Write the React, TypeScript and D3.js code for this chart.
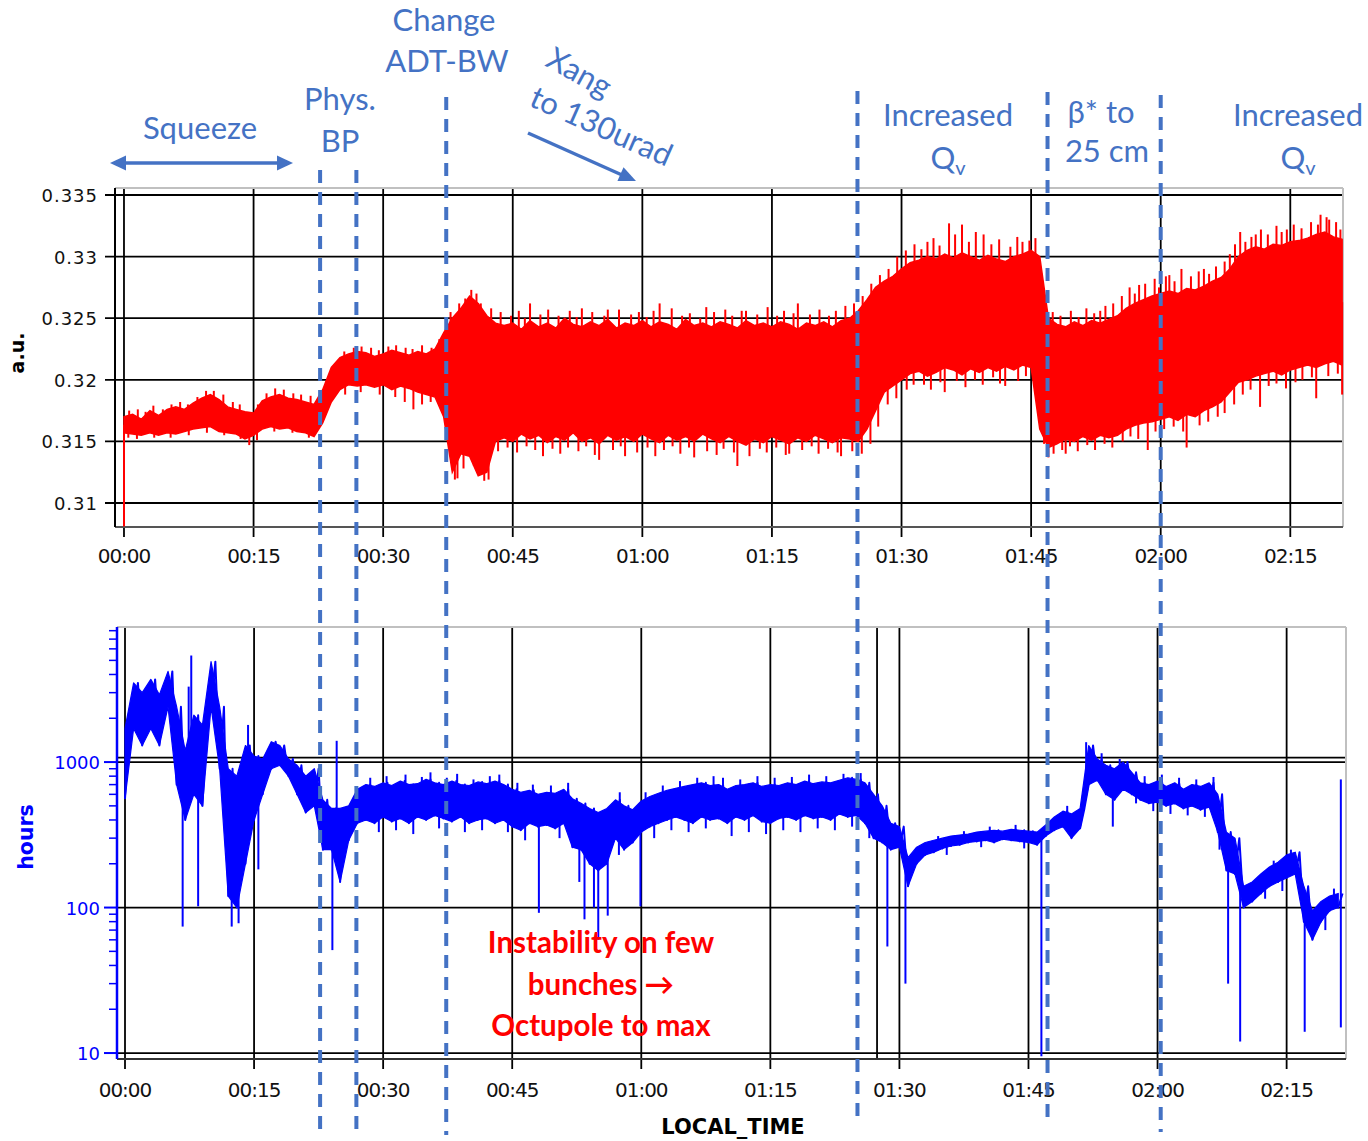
import React from "react";
import * as d3 from "d3";

// ---------- DATA ----------
// top panel: per-minute envelope (a.u.), index = minutes since 00:00
const redHigh = [
  0.3170, 0.3172, 0.3168, 0.3175, 0.3171, 0.3176, 0.3178, 0.3176, 0.3181, 0.3185,
  0.3188, 0.3184, 0.3178, 0.3176, 0.3174, 0.3173, 0.3183, 0.3186, 0.3188, 0.3185,
  0.3184, 0.3182, 0.3180, 0.3192, 0.3210, 0.3218, 0.3221, 0.3223, 0.3222, 0.3219,
  0.3221, 0.3224, 0.3222, 0.3220, 0.3223, 0.3221, 0.3225, 0.3238, 0.3250, 0.3258,
  0.3268, 0.3262, 0.3252, 0.3246, 0.3244, 0.3246, 0.3241, 0.3248, 0.3243, 0.3246,
  0.3242, 0.3250, 0.3245, 0.3243, 0.3247, 0.3244, 0.3249, 0.3242, 0.3246, 0.3244,
  0.3248, 0.3243, 0.3247, 0.3245, 0.3241, 0.3249, 0.3244, 0.3246, 0.3243, 0.3247,
  0.3245, 0.3242, 0.3248, 0.3244, 0.3246, 0.3243, 0.3247, 0.3245, 0.3241, 0.3246,
  0.3244, 0.3247, 0.3243, 0.3248, 0.3250, 0.3256, 0.3265, 0.3275, 0.3280, 0.3284,
  0.3290, 0.3295, 0.3297, 0.3300, 0.3298, 0.3302, 0.3299, 0.3303, 0.3300, 0.3297,
  0.3301, 0.3298, 0.3296, 0.3300, 0.3302, 0.3305, 0.3300, 0.3250, 0.3245, 0.3243,
  0.3247, 0.3244, 0.3248, 0.3246, 0.3249, 0.3252, 0.3258, 0.3262, 0.3265, 0.3268,
  0.3270, 0.3272, 0.3270, 0.3274, 0.3273, 0.3276, 0.3280, 0.3283, 0.3290, 0.3300,
  0.3305, 0.3308, 0.3306, 0.3310, 0.3309, 0.3312, 0.3313, 0.3315, 0.3318, 0.3320,
  0.3316, 0.3314,
];
const redLow = [
  0.3157, 0.3156, 0.3155, 0.3157, 0.3155, 0.3157, 0.3156, 0.3158, 0.3160, 0.3161,
  0.3162, 0.3158, 0.3157, 0.3156, 0.3152, 0.3155, 0.3160, 0.3162, 0.3160, 0.3161,
  0.3158, 0.3157, 0.3154, 0.3165, 0.3182, 0.3192, 0.3196, 0.3195, 0.3196, 0.3194,
  0.3196, 0.3192, 0.3195, 0.3193, 0.3190, 0.3188, 0.3186, 0.3170, 0.3125, 0.3140,
  0.3138, 0.3122, 0.3125, 0.3150, 0.3153, 0.3150, 0.3156, 0.3152, 0.3155, 0.3149,
  0.3154, 0.3151, 0.3157, 0.3150, 0.3153, 0.3148, 0.3155, 0.3151, 0.3154, 0.3150,
  0.3156, 0.3152, 0.3149, 0.3155, 0.3151, 0.3154, 0.3150, 0.3156, 0.3152, 0.3149,
  0.3154, 0.3150, 0.3147, 0.3152, 0.3149, 0.3154, 0.3151, 0.3148, 0.3153, 0.3150,
  0.3155, 0.3152, 0.3149, 0.3153, 0.3152, 0.3150, 0.3160, 0.3175, 0.3190, 0.3195,
  0.3200, 0.3205, 0.3207, 0.3203, 0.3206, 0.3210, 0.3208, 0.3204, 0.3209, 0.3206,
  0.3210, 0.3207, 0.3211, 0.3208, 0.3212, 0.3210, 0.3160, 0.3145, 0.3148, 0.3152,
  0.3150, 0.3154, 0.3151, 0.3155, 0.3153, 0.3155, 0.3160, 0.3163, 0.3165, 0.3166,
  0.3168, 0.3170, 0.3167, 0.3172, 0.3170, 0.3175, 0.3178, 0.3182, 0.3190, 0.3198,
  0.3200, 0.3203, 0.3205, 0.3207, 0.3204, 0.3208, 0.3210, 0.3212, 0.3210, 0.3213,
  0.3215, 0.3212,
];
// excursions outside the envelope [minute, value]
const redSpikes: [number, number][] = [
  [0, 0.3081], [9.5, 0.3191], [14.5, 0.3147], [17.5, 0.3193], [33.5, 0.3176],
  [36.5, 0.3233], [38.3, 0.3119], [40.2, 0.3273], [40.8, 0.3270], [41.7, 0.3118],
  [47, 0.3262], [53, 0.3258], [55, 0.3135], [56, 0.3257], [58, 0.3138],
  [62, 0.3262], [66, 0.3137], [71, 0.3130], [72, 0.3256], [77, 0.3140],
  [78, 0.3262], [83, 0.3138], [93, 0.3312], [95.5, 0.3327], [97, 0.3326],
  [99.5, 0.3318], [104, 0.3312], [95, 0.3190], [102, 0.3195], [107, 0.3137],
  [109, 0.3140], [113, 0.3256], [117.5, 0.3277], [118.5, 0.3143], [121, 0.3285],
  [123, 0.3145], [125, 0.3290], [128, 0.3302], [131, 0.3318], [131.5, 0.3178],
  [134, 0.3320], [138, 0.3185], [138.5, 0.3334], [139.5, 0.3330], [141, 0.3188],
  [0.6, 0.3175], [1.6, 0.3176], [2.5, 0.3174], [3.4, 0.3179], [4.5, 0.3176],
  [5.5, 0.3180], [6.5, 0.3182], [7.4, 0.3180], [8.5, 0.3186], [10.4, 0.3191],
  [11.5, 0.3188], [12.6, 0.3182], [13.4, 0.3180], [15.5, 0.3180], [16.5, 0.3189],
  [18.5, 0.3192], [19.6, 0.3189], [20.5, 0.3188], [21.6, 0.3187], [25.5, 0.3223],
  [26.6, 0.3226], [27.5, 0.3227], [28.6, 0.3226], [29.5, 0.3224], [30.6, 0.3227],
  [31.5, 0.3228], [32.6, 0.3226], [33.4, 0.3225], [34.5, 0.3228], [35.6, 0.3226],
  [0.5, 0.3153], [1.5, 0.3152], [3.5, 0.3153], [5.4, 0.3153], [7.5, 0.3155],
  [9.6, 0.3157], [11.6, 0.3155], [13.5, 0.3152], [15.4, 0.3151], [17.4, 0.3158],
  [19.5, 0.3157], [21.4, 0.3153], [25.6, 0.3188], [27.4, 0.3190], [29.6, 0.3188],
  [31.4, 0.3186], [32.5, 0.3182], [34.5, 0.3180], [35.5, 0.3182],
  [37.8, 0.3255], [38.8, 0.3262], [39.5, 0.3266], [41.3, 0.3262], [42.5, 0.3258],
  [43.6, 0.3255], [44.8, 0.3252], [45.7, 0.3256], [46.4, 0.3250], [48.2, 0.3253],
  [49.1, 0.3257], [50.3, 0.3252], [51.6, 0.3256], [52.4, 0.3251], [54.2, 0.3255],
  [55.6, 0.3252], [57.3, 0.3257], [58.7, 0.3253], [59.6, 0.3255], [60.5, 0.3251],
  [61.3, 0.3256], [63.4, 0.3258], [64.6, 0.3252], [65.5, 0.3254], [66.7, 0.3250],
  [67.4, 0.3259], [68.3, 0.3255], [69.6, 0.3257], [70.4, 0.3252], [71.5, 0.3256],
  [73.3, 0.3253], [74.5, 0.3259], [75.6, 0.3252], [76.4, 0.3256], [77.5, 0.3254],
  [79.4, 0.3253], [80.5, 0.3257], [81.6, 0.3252], [82.4, 0.3256], [83.5, 0.3260],
  [84.5, 0.3262], [85.5, 0.3268], [86.5, 0.3278], [87.5, 0.3285], [88.5, 0.3290],
  [89.5, 0.3300], [90.5, 0.3305], [91.5, 0.3310], [92.3, 0.3306], [93.7, 0.3315],
  [94.4, 0.3309], [96.2, 0.3318], [97.8, 0.3312], [98.6, 0.3320], [100.4, 0.3310],
  [101.3, 0.3314], [102.6, 0.3308], [103.4, 0.3316], [104.8, 0.3313], [105.5, 0.3315],
  [107.5, 0.3255], [108.4, 0.3252], [109.6, 0.3256], [110.5, 0.3251], [111.4, 0.3258],
  [112.3, 0.3254], [113.6, 0.3260], [114.5, 0.3262], [115.5, 0.3268], [116.4, 0.3275],
  [117.0, 0.3270], [118.2, 0.3278], [119.3, 0.3282], [119.8, 0.3275], [120.6, 0.3284],
  [121.6, 0.3280], [122.4, 0.3290], [123.5, 0.3284], [124.4, 0.3288], [125.6, 0.3286],
  [126.4, 0.3292], [127.4, 0.3296], [128.6, 0.3310], [129.2, 0.3320], [129.8, 0.3312],
  [130.5, 0.3316], [131.6, 0.3322], [132.4, 0.3318], [133.4, 0.3325], [134.6, 0.3322],
  [135.4, 0.3326], [136.3, 0.3323], [137.4, 0.3328], [138.2, 0.3326], [139.2, 0.3332],
  [140.3, 0.3328], [140.8, 0.3322],
  [37.5, 0.3160], [38.6, 0.3120], [39.3, 0.3128], [40.5, 0.3130], [42.2, 0.3119],
  [43.3, 0.3142], [44.4, 0.3145], [45.5, 0.3141], [46.6, 0.3146], [47.6, 0.3143],
  [48.5, 0.3138], [49.6, 0.3144], [50.5, 0.3140], [51.4, 0.3145], [52.6, 0.3142],
  [53.5, 0.3146], [54.5, 0.3139], [56.6, 0.3143], [57.5, 0.3146], [59.4, 0.3141],
  [60.6, 0.3145], [61.5, 0.3138], [62.5, 0.3143], [63.5, 0.3146], [64.4, 0.3140],
  [65.4, 0.3145], [67.5, 0.3142], [68.6, 0.3139], [69.4, 0.3144], [70.6, 0.3141],
  [72.4, 0.3138], [73.6, 0.3144], [74.4, 0.3141], [75.5, 0.3145], [76.6, 0.3139],
  [78.5, 0.3143], [79.6, 0.3146], [80.4, 0.3140], [81.5, 0.3144], [82.6, 0.3141],
  [84.3, 0.3142], [85.4, 0.3140], [86.4, 0.3148], [87.3, 0.3162], [88.4, 0.3180],
  [89.4, 0.3185], [90.6, 0.3192], [91.4, 0.3196], [92.6, 0.3196], [93.4, 0.3192],
  [94.5, 0.3198], [96.4, 0.3199], [97.4, 0.3194], [98.5, 0.3200], [99.4, 0.3196],
  [100.6, 0.3202], [101.4, 0.3197], [103.5, 0.3199], [104.4, 0.3203], [105.4, 0.3200],
  [106.5, 0.3148], [107.6, 0.3140], [108.6, 0.3143], [109.5, 0.3146], [110.4, 0.3142],
  [111.5, 0.3147], [112.4, 0.3143], [113.5, 0.3148], [114.4, 0.3145], [115.6, 0.3150],
  [116.5, 0.3154], [117.4, 0.3152], [119.4, 0.3158], [120.4, 0.3160], [121.5, 0.3162],
  [122.6, 0.3158], [124.5, 0.3163], [125.5, 0.3166], [126.6, 0.3170], [127.4, 0.3173],
  [128.5, 0.3180], [129.5, 0.3188], [130.4, 0.3192], [132.5, 0.3195], [133.4, 0.3197],
  [134.5, 0.3193], [135.6, 0.3198], [136.4, 0.3200], [137.5, 0.3202], [139.4, 0.3203],
  [140.5, 0.3205],
];

// bottom panel: per-minute envelope (hours)
const blueLow = [
  560, 1700, 1300, 1700, 1300, 2400, 700, 400, 600, 500,
  2400, 900, 120, 100, 200, 400, 600, 900, 950, 800,
  600, 450, 500, 250, 250, 150, 290, 380, 400, 380,
  420, 390, 410, 380, 420, 400, 430, 410, 390, 420,
  380, 400, 410, 380, 400, 360, 340, 380, 360, 370,
  350, 380, 260, 250, 200, 180, 200, 300, 250, 280,
  330, 360, 380, 400, 420, 400, 380, 420, 400, 410,
  380, 420, 400, 430, 390, 380, 410, 420, 400, 430,
  410, 420, 400, 440, 420, 430, 380, 300, 280, 250,
  260, 140, 200, 230, 240, 255, 265, 270, 280, 285,
  290, 280, 295, 290, 285, 280, 270, 310, 340, 360,
  300, 350, 700, 750, 600, 550, 650, 600, 550, 520,
  530, 500, 520, 480, 500, 470, 490, 330, 180, 170,
  100, 110, 125, 140, 150, 160, 170, 80, 60, 80,
  95, 100,
];
const blueHigh = [
  1700, 3500, 3000, 3700, 2900, 4200, 2400, 1200, 2100, 1800,
  4900, 2400, 900, 800, 1300, 1100, 1050, 1380, 1300, 1050,
  950, 800, 900, 550, 480, 480, 500, 650, 700, 680,
  720, 690, 740, 700, 710, 760, 720, 700, 740, 700,
  690, 730, 710, 740, 700, 650, 620, 640, 600, 620,
  610, 650, 560, 520, 480, 450, 480, 550, 500, 470,
  540, 580, 610, 640, 660, 680, 700, 720, 690, 700,
  650, 690, 700, 720, 680, 700, 690, 720, 700, 740,
  710, 730, 720, 750, 780, 760, 720, 600, 500, 380,
  360, 220, 260, 280, 290, 300, 310, 315, 320, 330,
  335, 340, 335, 345, 340, 335, 330, 370, 420, 460,
  440, 480, 1300, 1050, 950, 900, 1000, 850, 720, 700,
  740, 680, 720, 650, 700, 680, 720, 600, 330, 300,
  140, 150, 170, 190, 205, 230, 240, 140, 95, 110,
  120, 125,
];
const blueSpikes: [number, number][] = [
  [6.7, 74], [7.4, 3300], [7.7, 5400], [8.5, 102], [12.4, 74], [13.2, 78], [14.3, 1800],
  [15.5, 183], [24.1, 51], [24.6, 1400], [48.1, 92], [52.8, 150], [53.4, 83],
  [54.5, 100], [55, 60], [56.1, 88],
  [59.9, 102], [68.4, 800], [88.6, 54], [90.7, 30], [106.5, 9.5], [111.7, 1370],
  [114.8, 360], [115.6, 1050], [127.2, 250], [128.2, 30], [129.6, 12],
  [137.1, 14], [141.3, 760], [141.3, 15],
  [28.5, 780], [30.4, 800], [32.6, 820], [34.5, 790], [35.5, 850], [37.4, 780],
  [38.6, 830], [40.5, 760], [42.4, 800], [43.5, 820], [45.6, 720], [47.4, 700],
  [49.5, 690], [51.5, 720], [57.5, 620], [60.5, 620], [62.5, 690], [64.5, 740],
  [66.5, 780], [69.5, 780], [71.5, 760], [73.5, 800], [75.5, 780], [77.5, 790],
  [79.5, 820], [81.5, 800], [83.5, 830], [85.5, 840], [94.5, 310], [97.5, 335],
  [100.5, 360], [103.5, 370], [109.5, 500], [113.5, 1150], [118.5, 800], [120.5, 820],
  [122.5, 780], [124.5, 760], [126.5, 790], [133.5, 210], [135.5, 250], [140.5, 135],
  [29.5, 330], [31.5, 340], [33.5, 320], [36.5, 350], [39.5, 330], [41.5, 340],
  [44.5, 330], [46.5, 290], [50.5, 300], [51.8, 300], [57.4, 230], [61.5, 300],
  [63.5, 340], [65.5, 330], [67.5, 350], [70.5, 310], [72.5, 330], [74.5, 320],
  [76.5, 340], [78.5, 330], [80.5, 350], [82.5, 340], [84.5, 360], [86.5, 300],
  [95.5, 230], [99.5, 260], [104.5, 255], [117.5, 520], [119.5, 460], [121.5, 440],
  [123.5, 430], [125.5, 420], [132.5, 115], [134.5, 130], [139.5, 70],
];

const timeTicks = [0, 15, 30, 45, 60, 75, 90, 105, 120, 135];
const timeLabels = ["00:00", "00:15", "00:30", "00:45", "01:00", "01:15", "01:30", "01:45", "02:00", "02:15"];
const auTicks = [0.31, 0.315, 0.32, 0.325, 0.33, 0.335];
const auLabels = ["0.31", "0.315", "0.32", "0.325", "0.33", "0.335"];
const hoursTicks = [10, 100, 1000];
const hoursLabels = ["10", "100", "1000"];
const eventMinutes = [22.7, 26.9, 37.3, 84.9, 106.9, 120.0];
const markerMinute = 87.4;

// ---------- COMPONENT ----------
const ANN = "#4472C4";
const TICKFONT = "'DejaVu Sans', Verdana, sans-serif";
const ANNFONT = "Lato, 'Open Sans', sans-serif";

function bandMidPx(t: number, lo: number[], hi: number[], y: (v: number) => number) {
  const n = lo.length - 1;
  const i0 = Math.max(0, Math.min(n, Math.floor(t)));
  const i1 = Math.min(n, i0 + 1);
  const f = Math.max(0, Math.min(1, t - i0));
  const m0 = (y(lo[i0]) + y(hi[i0])) / 2;
  const m1 = (y(lo[i1]) + y(hi[i1])) / 2;
  return m0 * (1 - f) + m1 * f;
}

function arrowHead(x1: number, y1: number, x2: number, y2: number, len: number, half: number) {
  const dx = x2 - x1, dy = y2 - y1;
  const L = Math.hypot(dx, dy);
  const ux = dx / L, uy = dy / L;
  const bx = x2 - ux * len, by = y2 - uy * len;
  return `${x2},${y2} ${bx - uy * half},${by + ux * half} ${bx + uy * half},${by - ux * half}`;
}

export default function App() {
  // top panel
  const tL = 115, tR = 1343, tT = 188, tB = 527;
  const xTop = d3.scaleLinear().domain([-1.04, 141.1]).range([tL, tR]);
  const yTop = d3.scaleLinear().domain([0.30805, 0.33557]).range([tB, tT]);
  // bottom panel
  const bL = 117, bR = 1346, bT = 627, bB = 1059;
  const xBot = d3.scaleLinear().domain([-0.93, 141.9]).range([bL, bR]);
  const yBot = d3.scaleLog().domain([9.1, 8480]).range([bB, bT]);

  const redArea = d3
    .area<number>()
    .x((_, i) => xTop(i))
    .y0((_, i) => yTop(redLow[i]))
    .y1((d) => yTop(d))(redHigh) as string;

  const blueArea = d3
    .area<number>()
    .x((_, i) => xBot(i))
    .y0((_, i) => yBot(blueLow[i]))
    .y1((d) => yBot(d))(blueHigh) as string;

  const bluePts: [number, number][] = blueLow.flatMap((lo, i) => [
    [i, lo] as [number, number],
    [i + 0.5, blueHigh[i]] as [number, number],
  ]);
  const blueLine = d3
    .line<[number, number]>()
    .x((d) => xBot(d[0]))
    .y((d) => yBot(d[1]))(bluePts) as string;

  const minorTicks: number[] = [];
  [10, 100, 1000].forEach((dec) => {
    for (let m = 2; m <= 9; m++) if (dec * m < 8480) minorTicks.push(dec * m);
  });

  const eventTop = [170, 170, 97, 91, 92, 95];
  const eventBottom = [1132, 1135, 1135, 1125, 1125, 1132];

  return (
    <svg
      width={1368}
      height={1141}
      style={{ position: "absolute", left: 0, top: 0, background: "#fff" }}
    >
      <rect x={0} y={0} width={1368} height={1141} fill="#fff" />

      {/* ===== TOP PANEL ===== */}
      {auTicks.map((v) => (
        <line key={"hg" + v} x1={105} x2={tR} y1={yTop(v)} y2={yTop(v)} stroke="#000" strokeWidth={1.8} />
      ))}
      {timeTicks.map((t) => (
        <line key={"vg" + t} x1={xTop(t)} x2={xTop(t)} y1={tT} y2={tB + 10} stroke="#000" strokeWidth={1.8} />
      ))}
      <line x1={tL} x2={tR} y1={tT} y2={tT} stroke="#c0c0c0" strokeWidth={2} />
      <line x1={tR} x2={tR} y1={tT} y2={tB} stroke="#c0c0c0" strokeWidth={2} />
      <line x1={tL} x2={tR} y1={tB} y2={tB} stroke="#555" strokeWidth={2} />
      <line x1={tL} x2={tL} y1={tT} y2={tB} stroke="#000" strokeWidth={2} />

      <path d={redArea} fill="#ff0000" stroke="#ff0000" strokeWidth={1.5} />
      {redSpikes.map(([t, v], k) => (
        <line
          key={"rs" + k}
          x1={xTop(t)}
          x2={xTop(t)}
          y1={bandMidPx(t, redLow, redHigh, yTop)}
          y2={yTop(v)}
          stroke="#ff0000"
          strokeWidth={2}
        />
      ))}

      {auTicks.map((v, i) => (
        <text key={"yl" + v} x={98} y={yTop(v)} dy={7} textAnchor="end" fontFamily={TICKFONT} fontSize={18} letterSpacing={1} fill="#111">
          {auLabels[i]}
        </text>
      ))}
      {timeTicks.map((t, i) => (
        <text key={"xl" + t} x={xTop(t)} y={563} textAnchor="middle" fontFamily={TICKFONT} fontSize={20} letterSpacing={-1} fill="#111">
          {timeLabels[i]}
        </text>
      ))}
      <text transform="translate(24,353) rotate(-90)" textAnchor="middle" fontFamily={TICKFONT} fontWeight="bold" fontSize={19} fill="#000">
        a.u.
      </text>

      {/* ===== BOTTOM PANEL ===== */}
      {hoursTicks.map((v) => (
        <line key={"bhg" + v} x1={bL} x2={bR} y1={yBot(v)} y2={yBot(v)} stroke="#000" strokeWidth={1.8} />
      ))}
      <line x1={bL} x2={bR} y1={yBot(1000) - 4.5} y2={yBot(1000) - 4.5} stroke="#000" strokeWidth={1.8} />
      {timeTicks.map((t) => (
        <line key={"bvg" + t} x1={xBot(t)} x2={xBot(t)} y1={bT} y2={bB + 10} stroke="#000" strokeWidth={1.8} />
      ))}
      <line x1={xBot(markerMinute)} x2={xBot(markerMinute)} y1={bT} y2={bB} stroke="#000" strokeWidth={1.8} />
      <line x1={bL} x2={bR} y1={bT} y2={bT} stroke="#c0c0c0" strokeWidth={2} />
      <line x1={bR} x2={bR} y1={bT} y2={bB} stroke="#c0c0c0" strokeWidth={2} />
      <line x1={bL} x2={bR} y1={bB} y2={bB} stroke="#333" strokeWidth={2} />

      <path d={blueArea} fill="#0000ff" stroke="#0000ff" strokeWidth={1.2} strokeLinejoin="round" />
      <path d={blueLine} fill="none" stroke="#0000ff" strokeWidth={2} strokeLinejoin="round" />
      {blueSpikes.map(([t, v], k) => (
        <line
          key={"bs" + k}
          x1={xBot(t)}
          x2={xBot(t)}
          y1={bandMidPx(t, blueLow, blueHigh, yBot)}
          y2={yBot(v)}
          stroke="#0000ff"
          strokeWidth={2}
        />
      ))}

      <line x1={bL} x2={bL} y1={bT} y2={bB} stroke="#0000ff" strokeWidth={2.5} />
      {hoursTicks.map((v) => (
        <line key={"bmt" + v} x1={104} x2={bL} y1={yBot(v)} y2={yBot(v)} stroke="#0000ff" strokeWidth={2} />
      ))}
      {minorTicks.map((v) => (
        <line key={"bmi" + v} x1={109} x2={bL} y1={yBot(v)} y2={yBot(v)} stroke="#0000ff" strokeWidth={1.5} />
      ))}
      {hoursTicks.map((v, i) => (
        <text key={"byl" + v} x={100} y={yBot(v)} dy={7} textAnchor="end" fontFamily={TICKFONT} fontSize={18} fill="#0000ff">
          {hoursLabels[i]}
        </text>
      ))}
      {timeTicks.map((t, i) => (
        <text key={"bxl" + t} x={xBot(t)} y={1097} textAnchor="middle" fontFamily={TICKFONT} fontSize={20} letterSpacing={-1} fill="#111">
          {timeLabels[i]}
        </text>
      ))}
      <text transform="translate(33,837) rotate(-90)" textAnchor="middle" fontFamily={TICKFONT} fontWeight="bold" fontSize={20.5} fill="#0000ff">
        hours
      </text>
      <text x={733} y={1134} textAnchor="middle" fontFamily={TICKFONT} fontWeight="bold" fontSize={21} fill="#000">
        LOCAL_TIME
      </text>

      {/* ===== ANNOTATIONS ===== */}
      <g fontFamily={ANNFONT} fontSize={31} fill={ANN} textAnchor="middle">
        <text x={200} y={139}>Squeeze</text>
        <text x={340} y={110}>Phys.</text>
        <text x={340} y={152}>BP</text>
        <text x={444} y={31}>Change</text>
        <text x={447} y={72}>ADT-BW</text>
        <text transform="translate(574,82) rotate(29)">Xang</text>
        <text transform="translate(597,136) rotate(24)">to 130urad</text>
        <text x={948} y={126}>Increased</text>
        <text x={948} y={169}>
          Q<tspan fontSize={20} dy={6}>v</tspan>
        </text>
        <text x={1101} y={123}>β* to</text>
        <text x={1107} y={162}>25 cm</text>
        <text x={1298} y={126}>Increased</text>
        <text x={1298} y={169}>
          Q<tspan fontSize={20} dy={6}>v</tspan>
        </text>
      </g>
      {/* Squeeze double arrow */}
      <line x1={122} x2={281} y1={163} y2={163} stroke={ANN} strokeWidth={3.5} />
      <polygon points={arrowHead(200, 163, 110, 163, 16, 7.5)} fill={ANN} />
      <polygon points={arrowHead(200, 163, 293, 163, 16, 7.5)} fill={ANN} />
      {/* Xang arrow */}
      <line x1={528} y1={133} x2={622} y2={175} stroke={ANN} strokeWidth={3.5} />
      <polygon points={arrowHead(528, 133, 636, 181, 17, 7.5)} fill={ANN} />

      <g fontFamily={ANNFONT} fontWeight="bold" fontSize={29.5} fill="#ff0000" textAnchor="middle">
        <text x={601} y={953}>Instability on few</text>
        <text x={601} y={995}>bunches →</text>
        <text x={601} y={1036}>Octupole to max</text>
      </g>

      {/* dashed event lines */}
      {eventMinutes.map((t, i) => (
        <line
          key={"ev" + i}
          x1={xTop(t)}
          x2={xTop(t)}
          y1={eventTop[i]}
          y2={eventBottom[i]}
          stroke={ANN}
          strokeWidth={4}
          strokeDasharray="13 9"
        />
      ))}
    </svg>
  );
}
